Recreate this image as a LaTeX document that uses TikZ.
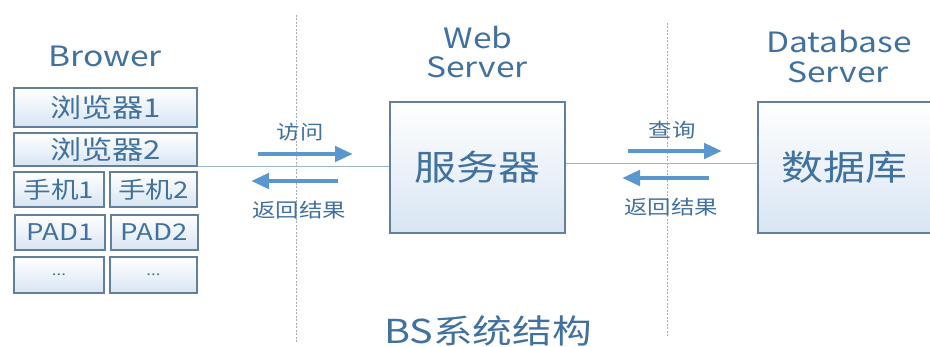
\documentclass[tikz,border=0pt]{standalone}
\usepackage{fontspec}
\setmainfont[FakeStretch=1.2]{Noto Sans CJK SC}
\usetikzlibrary{arrows.meta}
\definecolor{txtblue}{HTML}{41719E}
\definecolor{boxline}{HTML}{62809B}
\definecolor{boxfill}{HTML}{D8E5F3}
\definecolor{arrblue}{HTML}{5B97CF}
\definecolor{linkline}{HTML}{9BB5CB}
\definecolor{sepgray}{HTML}{A3AAB2}
\newcommand{\fsz}[1]{\fontsize{#1}{#1}\selectfont}
\begin{document}
\begin{tikzpicture}[x=1pt,y=-1pt,
  box/.style={draw=boxline, line width=1.1pt, top color=white, bottom color=boxfill,
    inner sep=0pt, text=txtblue, font=\fsz{26}},
  smallbox/.style={box, font=\fsz{23}},
  bigbox/.style={box, font=\fsz{35}},
  title/.style={text=txtblue, inner sep=0pt, font=\fsz{28}},
  lbl/.style={text=txtblue, inner sep=0pt, font=\fsz{19.5}},
  flow/.style={draw=arrblue, line width=4.8pt, -{Triangle[length=18pt,width=15pt]}},
  sep/.style={draw=sepgray, line width=0.8pt, dash pattern=on 2pt off 1.5pt},
  link/.style={draw=linkline, line width=1pt}]
\useasboundingbox (0,0) rectangle (930,347);

% separators
\coordinate (s1t) at (296,15);  \coordinate (s1b) at (296,342);
\coordinate (s2t) at (667,23);  \coordinate (s2b) at (667,338);
\draw[sep] (s1t) -- (s1b);
\draw[sep] (s2t) -- (s2b);

% titles
\node[title] (tbrow) at (105,56) {Brower};
\node[title] (tweb1) at (478,38) {Web};
\node[title] (tweb2) at (477,67) {Server};
\node[title] (tdb1) at (839,42) {Database};
\node[title] (tdb2) at (838,72) {Server};
\node[text=txtblue, inner sep=0pt, font=\fsz{33}] (tbs) at (488,331) {BS系统结构};

% browser boxes
\node[box, minimum width=183pt, minimum height=39pt] (b1) at (105.5,107.5) {浏览器1};
\node[box, minimum width=183pt, minimum height=33pt] (b2) at (105.5,149.5) {浏览器2};
\node[smallbox, minimum width=90pt, minimum height=35pt] (m1) at (59,189.5) {手机1};
\node[smallbox, minimum width=87pt, minimum height=35pt] (m2) at (153.5,189.5) {手机2};
\node[smallbox, minimum width=90pt, minimum height=35pt] (p1) at (60,232.5) {PAD1};
\node[smallbox, minimum width=87pt, minimum height=35pt] (p2) at (154.5,232.5) {PAD2};
\node[smallbox, font=\fsz{14}, minimum width=90pt, minimum height=36pt] (d1) at (59,275) {...};
\node[smallbox, font=\fsz{14}, minimum width=87pt, minimum height=36pt] (d2) at (153.5,275) {...};

% servers
\node[bigbox, minimum width=175pt, minimum height=131pt] (srv) at (477.5,167.5) {服务器};
\node[bigbox, minimum width=177pt, minimum height=131pt] (db) at (846.5,167.5) {\hspace*{-4pt}数据库};

% links
\draw[link] (b2.south east) -- (b2.south east -| srv.west);
\draw[link] ([yshift=4pt]srv.east) -- ([yshift=4pt]db.west);

% left arrows
\node[lbl] (l1) at (300,132) {访问};
\node[lbl] (l2) at (299,210) {返回结果};
\coordinate (a1s) at (258,154); \coordinate (a1e) at (353,154);
\coordinate (a2s) at (338,181); \coordinate (a2e) at (251,181);
\draw[flow] (a1s) -- (a1e);
\draw[flow] (a2s) -- (a2e);

% right arrows
\node[lbl] (r1) at (672,130) {查询};
\node[lbl] (r2) at (671,207) {返回结果};
\coordinate (c1s) at (628,151); \coordinate (c1e) at (722,151);
\coordinate (c2s) at (709,178); \coordinate (c2e) at (622,178);
\draw[flow] (c1s) -- (c1e);
\draw[flow] (c2s) -- (c2e);
\end{tikzpicture}
\end{document}
